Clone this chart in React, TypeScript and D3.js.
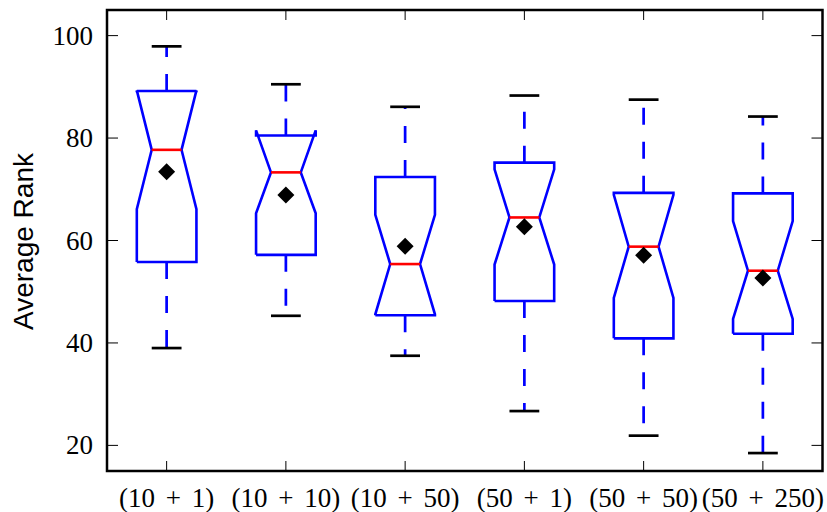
import React from "react";
import * as d3 from "d3";

const categories = ["(10 + 1)", "(10 + 10)", "(10 + 50)", "(50 + 1)", "(50 + 50)", "(50 + 250)"];
const whiskerLow = [39.0, 45.3, 37.5, 26.7, 21.9, 18.5];
const q1 = [55.8, 57.2, 45.4, 48.2, 40.9, 41.8];
const notchLow = [66.1, 65.3, 45.6, 55.3, 48.8, 44.7];
const median = [77.7, 73.3, 55.4, 64.5, 58.8, 54.1];
const notchHigh = [89.3, 81.5, 65.0, 73.9, 68.9, 63.8];
const q3 = [89.2, 80.5, 72.4, 75.2, 69.3, 69.2];
const whiskerHigh = [97.9, 90.5, 86.1, 88.3, 87.5, 84.2];
const means = [73.4, 68.9, 58.9, 62.7, 57.1, 52.7];
const yTicks = [20, 40, 60, 80, 100];

const W = 827;
const H = 512;
const L = 107, R = 822.5, T = 10, B = 471;

export default function App() {
  const x = d3.scaleLinear().domain([0.5, 6.5]).range([L, R]);
  const y = d3.scaleLinear().domain([15, 105]).range([B, T]);
  const bw = x(0.25) - x(0);
  const nw = x(0.125) - x(0);
  const cw = x(0.125) - x(0);
  const line = d3.line<[number, number]>();
  const serif = "'Liberation Serif', 'Times New Roman', serif";

  return (
    <div style={{ position: "fixed", left: 0, top: 0, width: W, height: H, background: "#fff" }}>
      <svg width={W} height={H} style={{ display: "block" }}>
        <rect x={0} y={0} width={W} height={H} fill="#fff" />
        {categories.map((c, i) => {
          const cx = x(i + 1);
          const pts: [number, number][] = [
            [cx - bw, y(q1[i])],
            [cx + bw, y(q1[i])],
            [cx + bw, y(notchLow[i])],
            [cx + nw, y(median[i])],
            [cx + bw, y(notchHigh[i])],
            [cx + bw, y(q3[i])],
            [cx - bw, y(q3[i])],
            [cx - bw, y(notchHigh[i])],
            [cx - nw, y(median[i])],
            [cx - bw, y(notchLow[i])],
            [cx - bw, y(q1[i])],
          ];
          const m = y(means[i]);
          const d = 8.5;
          return (
            <g key={c}>
              <line x1={cx} x2={cx} y1={y(q3[i])} y2={y(whiskerHigh[i])} stroke="#0000ff" strokeWidth={2.7} strokeDasharray="17 17" />
              <line x1={cx} x2={cx} y1={y(q1[i])} y2={y(whiskerLow[i])} stroke="#0000ff" strokeWidth={2.7} strokeDasharray="17 17" />
              <line x1={cx - cw} x2={cx + cw} y1={y(whiskerHigh[i])} y2={y(whiskerHigh[i])} stroke="#000" strokeWidth={2.7} />
              <line x1={cx - cw} x2={cx + cw} y1={y(whiskerLow[i])} y2={y(whiskerLow[i])} stroke="#000" strokeWidth={2.7} />
              <path d={line(pts) || ""} fill="none" stroke="#0000ff" strokeWidth={2.6} strokeLinejoin="miter" />
              <line x1={cx - nw} x2={cx + nw} y1={y(median[i])} y2={y(median[i])} stroke="#ff0000" strokeWidth={2.6} />
              <path d={`M${cx},${m - d}L${cx + d},${m}L${cx},${m + d}L${cx - d},${m}Z`} fill="#000" />
            </g>
          );
        })}
        {categories.map((c, i) => (
          <g key={"xt" + i}>
            <line x1={x(i + 1)} x2={x(i + 1)} y1={B} y2={B - 10} stroke="#000" strokeWidth={1} />
            <line x1={x(i + 1)} x2={x(i + 1)} y1={T} y2={T + 10} stroke="#000" strokeWidth={1} />
            <text x={x(i + 1)} y={507} textAnchor="middle" fontFamily={serif} fontSize={27} fill="#000" style={{ wordSpacing: "4px" }}>
              {c}
            </text>
          </g>
        ))}
        {yTicks.map((t) => (
          <g key={"yt" + t}>
            <line x1={L} x2={L + 11} y1={y(t)} y2={y(t)} stroke="#000" strokeWidth={1} />
            <line x1={R} x2={R - 11} y1={y(t)} y2={y(t)} stroke="#000" strokeWidth={1} />
            <text x={93} y={y(t) + 9} textAnchor="end" fontFamily={serif} fontSize={27} fill="#000">
              {t}
            </text>
          </g>
        ))}
        <rect x={L} y={T} width={R - L} height={B - T} fill="none" stroke="#000" strokeWidth={2.5} />
        <text
          transform={`translate(33,241.5) rotate(-90)`}
          textAnchor="middle"
          fontFamily="'Liberation Sans', Arial, sans-serif"
          fontSize={28}
          fill="#000"
        >
          Average Rank
        </text>
      </svg>
    </div>
  );
}
